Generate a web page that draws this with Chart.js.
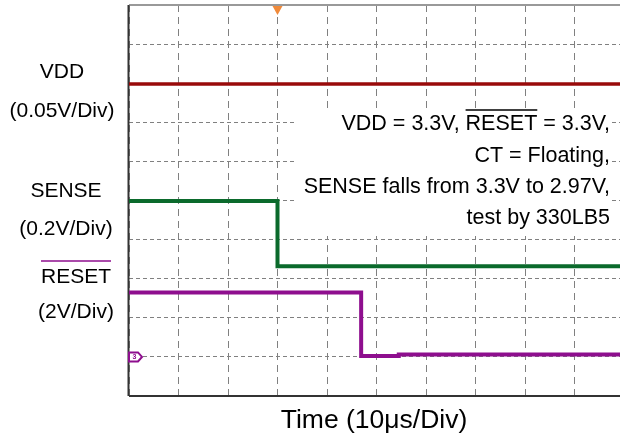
<!DOCTYPE html>
<html>
<head>
<meta charset="utf-8">
<script src="https://cdn.jsdelivr.net/npm/chart.js@4"></script>
<style>
  html, body { margin: 0; padding: 0; background: #fff; overflow: hidden; }
  #wrap { width: 620px; height: 444px; overflow: hidden; }
</style>
</head>
<body>
<div id="wrap"><canvas id="scope" width="630" height="444"></canvas></div>
<script>
// screen divisions (10 x 10), values
const vddTime = [0, 10];
const vddLevel = [7.98, 7.98];

const senseTime = [0, 3.0, 3.0, 10];
const senseLevel = [4.99, 4.99, 3.32, 3.32];

const resetTime = [0, 4.69, 4.69, 5.45, 5.45, 10];
const resetLevel = [2.65, 2.65, 1.02, 1.02, 1.06, 1.06];

const channelNames = ["VDD", "SENSE", "RESET"];
const channelScales = ["(0.05V/Div)", "(0.2V/Div)", "(2V/Div)"];
const noteLines = ["VDD = 3.3V, RESET = 3.3V,", "CT = Floating,", "SENSE falls from 3.3V to 2.97V,", "test by 330LB5"];
const xTitle = "Time (10\u03bcs/Div)";

const FONT = '"Liberation Sans", Arial, sans-serif';

function pts(t, v) {
  return t.map((x, i) => ({ x: x, y: v[i] }));
}

const scopeDecor = {
  id: "scopeDecor",
  beforeDatasetsDraw(chart) {
    const c = chart.ctx;
    const a = chart.chartArea;
    c.save();
    // frame
    c.lineWidth = 2;
    c.strokeStyle = "#999";
    c.beginPath(); c.moveTo(a.left, a.top); c.lineTo(a.right, a.top); c.stroke();
    c.strokeStyle = "#333";
    c.beginPath(); c.moveTo(a.left - 0.5, a.top); c.lineTo(a.left - 0.5, a.bottom); c.stroke();
    c.beginPath(); c.moveTo(a.left, a.bottom); c.lineTo(a.right, a.bottom); c.stroke();

    // note box
    c.fillStyle = "#fff";
    c.fillRect(297, 108, 315, 128);
    c.fillStyle = "#000";
    c.font = "21.5px " + FONT;
    c.textAlign = "right";
    c.textBaseline = "alphabetic";
    const right = 610;
    const base = [130, 162, 193, 224];
    noteLines.forEach((s, i) => c.fillText(s, right, base[i]));
    // overline on RESET in first line
    const full = c.measureText(noteLines[0]).width;
    const pre = c.measureText("VDD = 3.3V, ").width;
    const w = c.measureText("RESET").width;
    const x0 = right - full + pre;
    c.lineWidth = 1.5;
    c.strokeStyle = "#000";
    c.beginPath(); c.moveTo(x0, 110); c.lineTo(x0 + w, 110); c.stroke();
    c.restore();
  },
  afterDraw(chart) {
    const c = chart.ctx;
    const a = chart.chartArea;
    const xs = chart.scales.x;
    const ys = chart.scales.y;
    c.save();
    // trigger marker
    const tx = xs.getPixelForValue(3.0);
    c.fillStyle = "#f08a3a";
    c.beginPath();
    c.moveTo(tx - 5, a.top + 1); c.lineTo(tx + 5, a.top + 1); c.lineTo(tx, a.top + 10);
    c.closePath(); c.fill();

    // channel 3 ground marker
    const gy = ys.getPixelForValue(1.0);
    const gx = a.left;
    c.fillStyle = "#fff";
    c.strokeStyle = "#8e0e8e";
    c.lineWidth = 2;
    c.beginPath();
    c.moveTo(gx, gy - 4.5); c.lineTo(gx + 9, gy - 4.5); c.lineTo(gx + 13, gy);
    c.lineTo(gx + 9, gy + 4.5); c.lineTo(gx, gy + 4.5); c.closePath();
    c.fill(); c.stroke();
    c.fillStyle = "#8e0e8e";
    c.font = "bold 7px " + FONT;
    c.textAlign = "center";
    c.textBaseline = "middle";
    c.fillText("3", gx + 5.5, gy + 0.5);

    // channel labels
    c.fillStyle = "#000";
    c.font = "21px " + FONT;
    c.textBaseline = "alphabetic";
    const cx = [62, 66, 76];
    const nameBase = [78, 197, 283];
    const scaleBase = [117, 235, 318];
    channelNames.forEach((n, i) => {
      c.fillText(n, cx[i], nameBase[i]);
      c.fillText(channelScales[i], cx[i], scaleBase[i]);
    });
    const rw = c.measureText("RESET").width;
    c.lineWidth = 1.5;
    c.beginPath(); c.moveTo(cx[2] - rw / 2, 261); c.lineTo(cx[2] + rw / 2, 261); c.stroke();

    // x title
    c.font = "26.5px " + FONT;
    c.fillText(xTitle, 374, 428);
    c.restore();
  }
};

new Chart(document.getElementById("scope"), {
  type: "line",
  data: {
    datasets: [
      { label: "VDD", data: pts(vddTime, vddLevel), borderColor: "#990a0a", borderWidth: 3.5 },
      { label: "SENSE", data: pts(senseTime, senseLevel), borderColor: "#0b6a2c", borderWidth: 4 },
      { label: "RESET", data: pts(resetTime, resetLevel), borderColor: "#8e0e8e", borderWidth: 4 }
    ]
  },
  options: {
    responsive: false,
    animation: false,
    events: [],
    layout: { padding: { left: 129, right: 6, top: 5, bottom: 48 } },
    elements: { point: { radius: 0 }, line: { tension: 0, borderCapStyle: "butt" } },
    plugins: { legend: { display: false }, tooltip: { enabled: false } },
    scales: {
      x: {
        type: "linear", min: 0, max: 10,
        ticks: { display: false, stepSize: 1 },
        grid: { color: "#808080", lineWidth: 1, drawTicks: false },
        border: { display: false, dash: [7, 5] }
      },
      y: {
        type: "linear", min: 0, max: 10,
        ticks: { display: false, stepSize: 1 },
        grid: { color: "#808080", lineWidth: 1, drawTicks: false },
        border: { display: false, dash: [4, 3] }
      }
    }
  },
  plugins: [scopeDecor]
});
</script>
</body>
</html>
